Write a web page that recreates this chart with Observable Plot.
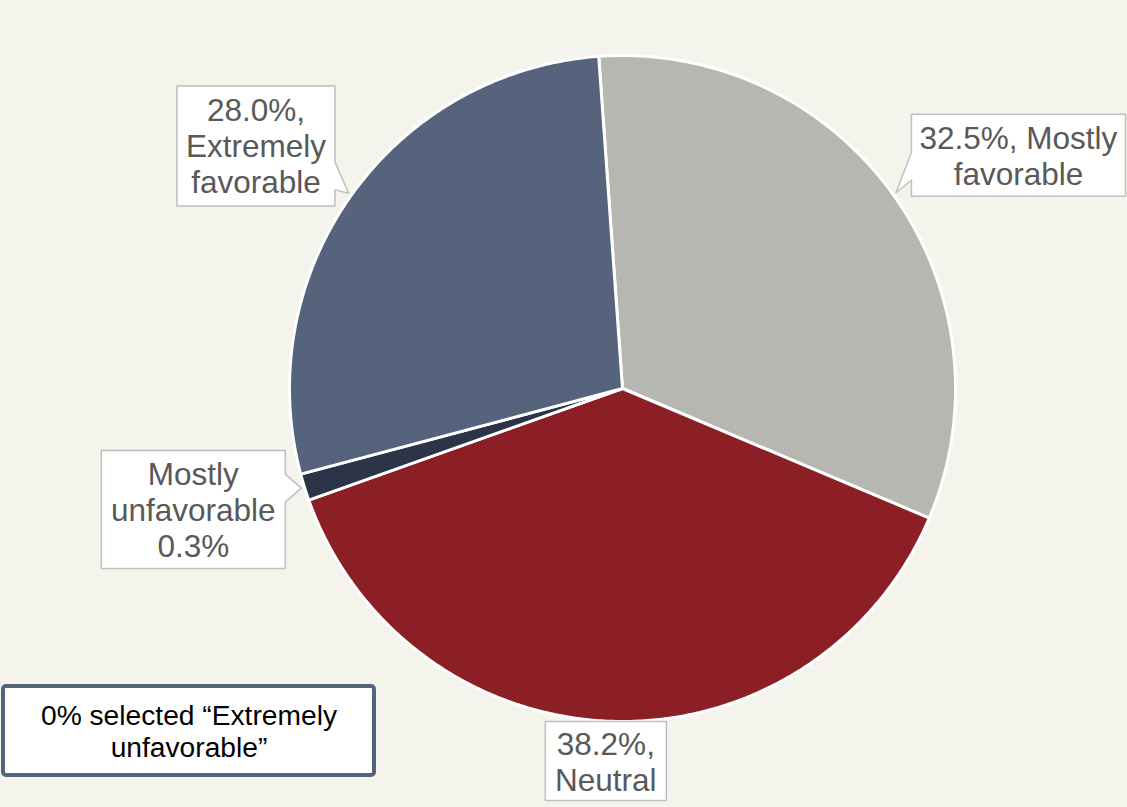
<!DOCTYPE html>
<html>
<head>
<meta charset="utf-8">
<script src="https://cdn.jsdelivr.net/npm/d3@7"></script>
<script src="https://cdn.jsdelivr.net/npm/@observablehq/plot@0.6"></script>
<style>
  html, body { margin: 0; padding: 0; background: #f4f3ec; }
  #chart svg { display: block; background: #f4f3ec; }
</style>
</head>
<body>
<div id="chart"></div>
<script>
// ---- data ----
const categories = ["Mostly favorable", "Neutral", "Mostly unfavorable", "Extremely favorable"];
const shares = [32.5, 38.2, 1.3, 28.0];          // slice sizes as drawn
const labelTexts = ["32.5%, Mostly\nfavorable", "38.2%,\nNeutral", "Mostly\nunfavorable\n0.3%", "28.0%,\nExtremely\nfavorable"];
const sliceColors = ["#b7b7b1", "#8b1f25", "#2c3547", "#56637c"];
const noteText = "0% selected \u201cExtremely\nunfavorable\u201d";

// ---- layout ----
const W = 1127, H = 807;
const cx = 622, cy = 388, R = 333;
const startDeg = -4.1;
// label placement relative to slice mid-angle: angle shift (deg), distance (x R), box size
const labelLayout = [
  {da: 5.1, dist: 1.38, w: 214, h: 82},
  {da: 0.9, dist: 1.12, w: 121, h: 79},
  {da: 1.5, dist: 1.339, w: 184, h: 118},
  {da: -2.0, dist: 1.32, w: 158, h: 120}
];
const noteBox = {x1: 3, x2: 374, y1: 686, y2: 775};

const rad = d => d * Math.PI / 180;
const px = (deg, r) => cx + r * Math.sin(rad(deg));
const py = (deg, r) => cy - r * Math.cos(rad(deg));

const total = d3.sum(shares);
let acc = startDeg;
const slices = categories.map((c, i) => {
  const a0 = acc, a1 = acc + shares[i] / total * 360;
  acc = a1;
  return {category: c, a0, a1, mid: (a0 + a1) / 2};
});

// slice polygons
const slicePts = [];
slices.forEach(s => {
  slicePts.push({category: s.category, x: cx, y: cy});
  const n = Math.max(2, Math.ceil((s.a1 - s.a0) / 0.5));
  for (let k = 0; k <= n; k++) {
    const a = s.a0 + (s.a1 - s.a0) * k / n;
    slicePts.push({category: s.category, x: px(a, R), y: py(a, R)});
  }
  slicePts.push({category: s.category, x: cx, y: cy});
});

// label callouts
const labels = slices.map((s, i) => {
  const L = labelLayout[i];
  const lx = px(s.mid + L.da, R * L.dist), ly = py(s.mid + L.da, R * L.dist);
  const x1 = lx - L.w / 2, x2 = lx + L.w / 2, y1 = ly - L.h / 2, y2 = ly + L.h / 2;
  const tx = px(s.mid, R * 1.01), ty = py(s.mid, R * 1.01);
  return {id: i, text: labelTexts[i], lx, ly, x1, x2, y1, y2, tx, ty};
});
const calloutPts = [];
labels.forEach(l => {
  const pts = [];
  const half = 14;
  const bc = Math.max(l.y1 + 20, Math.min(l.y2 - 30, l.ty));
  const hc = Math.max(l.x1 + 20, Math.min(l.x2 - 20, l.tx));
  pts.push([l.x1, l.y1]);
  if (l.ty < l.y1 - 1) { pts.push([hc - half, l.y1], [l.tx, l.ty], [hc + half, l.y1]); }
  pts.push([l.x2, l.y1]);
  if (l.tx > l.x2) { pts.push([l.x2, bc - half], [l.tx, l.ty], [l.x2, bc + half]); }
  pts.push([l.x2, l.y2]);
  if (l.ty > l.y2 + 1) { pts.push([hc + half, l.y2], [l.tx, l.ty], [hc - half, l.y2]); }
  pts.push([l.x1, l.y2]);
  if (l.tx < l.x1) { pts.push([l.x1, bc + half], [l.tx, l.ty], [l.x1, bc - half]); }
  pts.push([l.x1, l.y1]);
  pts.forEach(p => calloutPts.push({id: l.id, x: p[0], y: p[1]}));
});

const font = "'Liberation Sans', Arial, sans-serif";

const chart = Plot.plot({
  width: W, height: H,
  margin: 0,
  x: {domain: [0, W], range: [0, W], axis: null},
  y: {domain: [0, H], range: [0, H], axis: null},
  color: {domain: categories, range: sliceColors},
  style: {background: "#f4f3ec", fontFamily: font},
  marks: [
    Plot.line(slicePts, {x: "x", y: "y", z: "category", fill: "category", stroke: "white", strokeWidth: 3, strokeLinejoin: "round"}),
    Plot.line(calloutPts, {x: "x", y: "y", z: "id", fill: "white", stroke: "#bfbfbf", strokeWidth: 1.5}),
    Plot.text(labels, {x: "lx", y: "ly", text: "text", fontSize: 31.5, lineHeight: 1.145, fill: "#595959", textAnchor: "middle"}),
    Plot.rect([noteBox], {x1: "x1", x2: "x2", y1: "y1", y2: "y2", fill: "white", stroke: "#56637c", strokeWidth: 4, rx: 3}),
    Plot.text([noteText], {x: (noteBox.x1 + noteBox.x2) / 2, y: (noteBox.y1 + noteBox.y2) / 2, text: d => d, fontSize: 28.2, lineHeight: 1.14, fill: "black", textAnchor: "middle"})
  ]
});
document.getElementById("chart").appendChild(chart);
</script>
</body>
</html>
